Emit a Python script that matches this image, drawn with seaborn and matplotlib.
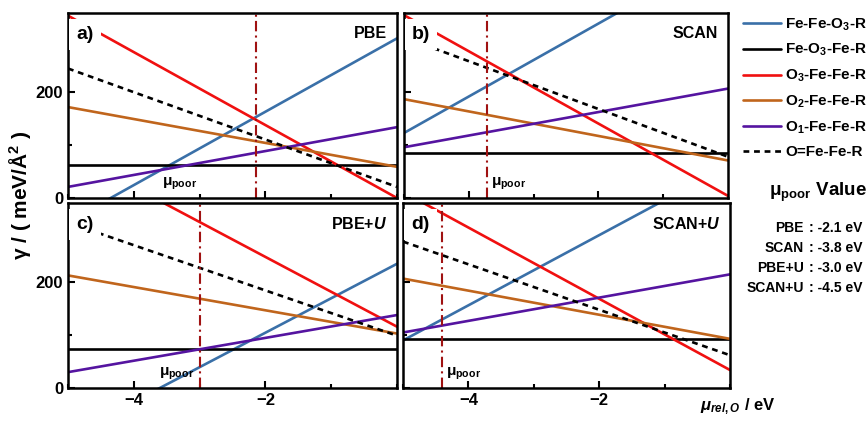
import matplotlib
matplotlib.use("Agg")
import matplotlib.pyplot as plt
import numpy as np
import seaborn as sns
from matplotlib.ticker import MultipleLocator

sns.set_style("ticks", {'axes.edgecolor': 'black', 'xtick.color': 'black',
                        'ytick.color': 'black', 'text.color': 'black'})
plt.rcParams['font.family'] = ['Liberation Sans', 'DejaVu Sans']
plt.rcParams['font.weight'] = 'bold'
plt.rcParams['mathtext.fontset'] = 'custom'
plt.rcParams['mathtext.rm'] = 'Liberation Sans:bold'
plt.rcParams['mathtext.it'] = 'Liberation Sans:bold:italic'
plt.rcParams['mathtext.bf'] = 'Liberation Sans:bold'
plt.rcParams['mathtext.default'] = 'rm'

# chemical potential range (line end points)
mu_ends = [-5.0, 0.0]

series = ['Fe-Fe-O$_3$-R', 'Fe-O$_3$-Fe-R', 'O$_3$-Fe-Fe-R',
          'O$_2$-Fe-Fe-R', 'O$_1$-Fe-Fe-R', 'O=Fe-Fe-R']
colors = ['#3a70a8', '#000000', '#f01010', '#c0651c', '#5514a0', '#000000']
styles = ['-', '-', '-', '-', '-', (0, (2.2, 1.8))]

# surface energies (meV/A^2) at mu = -5 and mu = 0 for each series
pbe = [[-45, 302], [62, 62], [345, 0], [172, 59], [21, 134], [245, 21]]
scan = [[123, 468], [85, 85], [346, 4], [187, 71], [96, 207], [304, 78]]
pbe_u = [[-91, 235], [73, 73], [446, 116], [213, 103], [30, 138], [313, 99]]
scan_u = [[90, 422], [92, 92], [371, 34], [207, 93], [105, 215], [277, 62]]

panel_names = ['PBE', 'SCAN', 'PBE+$\\mathit{U}$', 'SCAN+$\\mathit{U}$']
panel_letters = ['a)', 'b)', 'c)', 'd)']
mu_poor = [-2.15, -3.72, -3.0, -4.4]

table_names = ['PBE', 'SCAN', 'PBE+U', 'SCAN+U']
table_values = [': -2.1 eV', ': -3.8 eV', ': -3.0 eV', ': -4.5 eV']

fig = plt.figure(figsize=(8.68, 4.21), dpi=100)
W, H = 868, 421
boxes = [(68, 13, 397, 198), (404, 13, 728, 198),
         (68, 203, 397, 388), (403, 203, 730, 388)]
datas = [pbe, scan, pbe_u, scan_u]
# mu_poor label positions (x in data, alignment)
lab_pos = [(-3.3, 'center'), (-3.65, 'left'), (-3.08, 'right'), (-4.35, 'left')]

for i, (x0, y0, x1, y1) in enumerate(boxes):
    ax = fig.add_axes([x0 / W, 1 - y1 / H, (x1 - x0) / W, (y1 - y0) / H])
    for k, name in enumerate(series):
        sns.lineplot(x=mu_ends, y=datas[i][k], color=colors[k], linestyle=styles[k],
                     lw=1.9, ax=ax, label=name if i == 0 else None, legend=False)
    ax.axvline(mu_poor[i], color='#a01212', lw=1.5, linestyle=(0, (5, 2, 1, 2)))
    ax.set_xlim(-5, 0)
    ax.set_ylim(0, 350)
    ax.xaxis.set_major_locator(MultipleLocator(2))
    ax.xaxis.set_minor_locator(MultipleLocator(1))
    ax.yaxis.set_major_locator(MultipleLocator(200))
    ax.yaxis.set_minor_locator(MultipleLocator(100))
    ax.tick_params(which='both', direction='in', width=1.5, labelsize=12)
    ax.tick_params(which='major', length=5)
    ax.tick_params(which='minor', length=3)
    for s in ax.spines.values():
        s.set_linewidth(1.8)
        s.set_visible(True)
    ax.set_xticks([-4, -2])
    if i in (0, 1):
        ax.set_xticklabels([])
    if i in (1, 3):
        ax.set_yticklabels([])
    ax.set_xlabel('')
    ax.set_ylabel('')
    ax.text(0.025, 0.93, panel_letters[i], transform=ax.transAxes, fontsize=14,
            fontweight='bold', va='top', ha='left',
            bbox=dict(facecolor='white', edgecolor='none', pad=5))
    ax.text(0.97, 0.93, panel_names[i], transform=ax.transAxes, fontsize=11.5,
            fontweight='bold', va='top', ha='right')
    lx, lha = lab_pos[i]
    ax.text(lx, 12, '$\\mu_{poor}$', fontsize=11, ha=lha, va='bottom')

handles, labels = fig.axes[0].get_legend_handles_labels()
fig.legend(handles, labels, loc='upper left', bbox_to_anchor=(737 / W, 1 - 10 / H),
           frameon=False, fontsize=11, handlelength=2.5, handletextpad=0.25,
           labelspacing=0.62, borderaxespad=0)

fig.text(20 / W, 1 - 195 / H, 'γ / ( meV/Å$^2$ )', rotation=90, fontsize=15,
         fontweight='bold', ha='center', va='center')
fig.text(738 / W, 1 - 407 / H, '$\\mathit{\\mu_{rel,O}}$ / eV', fontsize=12,
         ha='center', va='center')

fig.text(818 / W, 1 - 192 / H, '$\\mu_{poor}$ Value', fontsize=13.5, ha='center',
         va='center')
for j, (nm, val) in enumerate(zip(table_names, table_values)):
    yy = 1 - (228 + j * 20) / H
    fig.text(804 / W, yy, nm, fontsize=10, ha='right', va='center')
    fig.text(809 / W, yy, val, fontsize=10, ha='left', va='center')

fig.savefig('out.png', dpi=100)
